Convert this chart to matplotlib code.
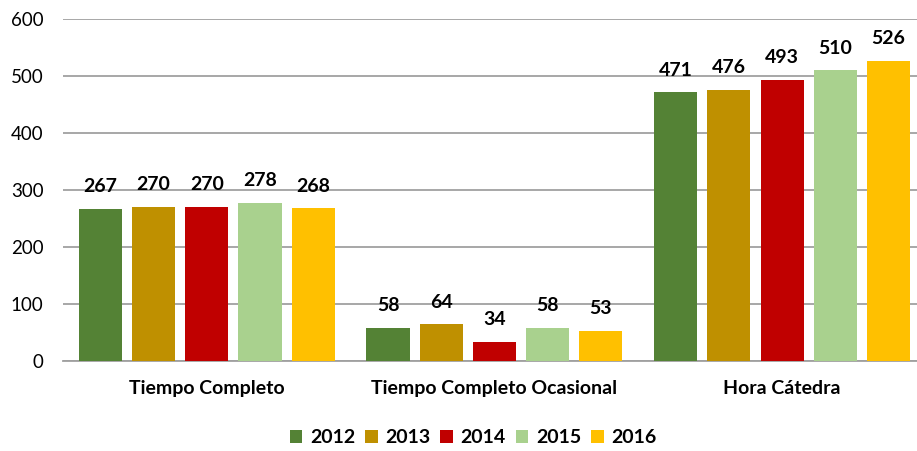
import matplotlib
matplotlib.use("Agg")
import matplotlib.pyplot as plt
import numpy as np
from matplotlib.patches import Patch

categories = ["Tiempo Completo", "Tiempo Completo Ocasional", "Hora Cátedra"]
years = ["2012", "2013", "2014", "2015", "2016"]
values_2012 = [267, 58, 471]
values_2013 = [270, 64, 476]
values_2014 = [270, 34, 493]
values_2015 = [278, 58, 510]
values_2016 = [268, 53, 526]
series = [values_2012, values_2013, values_2014, values_2015, values_2016]
colors = ["#548235", "#BF9000", "#C00000", "#A9D18E", "#FFC000"]
y_ticks = [0, 100, 200, 300, 400, 500, 600]

plt.rcParams["font.family"] = ["Lato", "DejaVu Sans"]

fig = plt.figure(figsize=(9.17, 4.51), dpi=100)
ax = fig.add_axes([0.0687, 0.1996, 0.941, 0.7584])

x = np.arange(len(categories))
step = 0.185
width = 0.150
for i, (vals, col) in enumerate(zip(series, colors)):
    pos = x + (i - 2) * step
    ax.bar(pos, vals, width=width, color=col, zorder=3)
    for p, v in zip(pos, vals):
        ax.annotate(str(v), (p, v), xytext=(0, 12), textcoords="offset points",
                    ha="center", va="baseline",
                    fontsize=14, fontweight="bold", color="black")

ax.set_xlim(-0.5, 2.5)
ax.set_ylim(0, 600)
ax.set_yticks(y_ticks)
ax.set_yticklabels([str(t) for t in y_ticks], fontsize=13.5)
ax.set_xticks(x)
ax.set_xticklabels(categories, fontsize=14, fontweight="bold")
ax.tick_params(axis="both", length=0)
ax.tick_params(axis="y", pad=14)
ax.tick_params(axis="x", pad=14)
ax.grid(axis="y", color="#A0A0A0", linewidth=1.3, zorder=0)
for s in ["top", "right", "left"]:
    ax.spines[s].set_visible(False)
ax.spines["bottom"].set_color("#A0A0A0")
ax.spines["bottom"].set_linewidth(1.3)

handles = [Patch(facecolor=c, label=y) for c, y in zip(colors, years)]
leg = fig.legend(handles=handles, loc="center", bbox_to_anchor=(0.516, 0.03),
                 ncol=5, frameon=False, handlelength=0.65, handleheight=0.65,
                 handletextpad=0.4, columnspacing=0.5,
                 prop={"size": 14, "weight": "bold"})

fig.savefig("out.png", dpi=100)
